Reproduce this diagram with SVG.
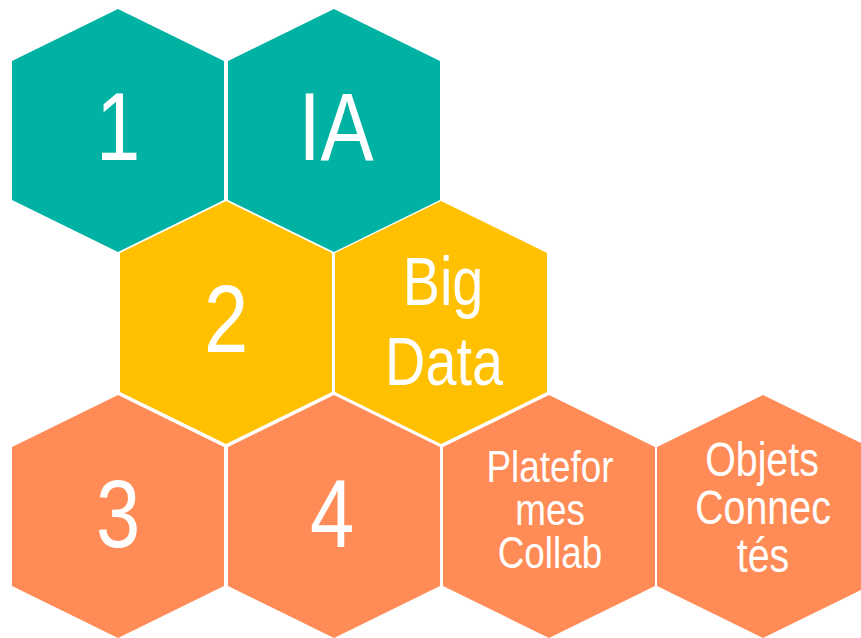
<svg xmlns="http://www.w3.org/2000/svg" xmlns:xlink="http://www.w3.org/1999/xlink" width="861" height="638" viewBox="0 0 861 638">
  <style>
    .teal { fill: #00B2A3; }
    .yellow { fill: #FFC000; }
    .orange { fill: #FF8C57; }
    text { fill: #FFFFFF; font-family: "Liberation Sans", Arial, sans-serif; text-anchor: middle; }
    .big { font-size: 97px; }
    .mid { font-size: 68px; }
    .sm { font-size: 45px; }
    .sm2 { font-size: 48px; }
  </style>
  <defs>
    <polygon id="hex" points="0,0 106,52 106,191 0,243 -106,191 -106,52"/>
  </defs>
  <rect width="861" height="638" fill="#FFFFFF"/>
  <g id="connectors"/>
  <g id="n1">
    <use xlink:href="#hex" href="#hex" x="118" y="9" class="teal"/>
    <text class="big" transform="translate(118,160) scale(0.82,1)">1</text>
  </g>
  <g id="nIA">
    <use xlink:href="#hex" href="#hex" x="334" y="9" class="teal"/>
    <text class="big" transform="translate(336,160) scale(0.82,1)">IA</text>
  </g>
  <g id="n2">
    <use xlink:href="#hex" href="#hex" x="226" y="201" class="yellow"/>
    <text class="big" transform="translate(226,352) scale(0.82,1)">2</text>
  </g>
  <g id="nBigData">
    <use xlink:href="#hex" href="#hex" x="441" y="201" class="yellow"/>
    <text class="mid" transform="translate(443,305) scale(0.82,1)">Big</text>
    <text class="mid" transform="translate(444,385) scale(0.82,1)">Data</text>
  </g>
  <g id="n3">
    <use xlink:href="#hex" href="#hex" x="118" y="395" class="orange"/>
    <text class="big" transform="translate(118,547) scale(0.82,1)">3</text>
  </g>
  <g id="n4">
    <use xlink:href="#hex" href="#hex" x="334" y="395" class="orange"/>
    <text class="big" transform="translate(332,547) scale(0.82,1)">4</text>
  </g>
  <g id="nPlateformes">
    <use xlink:href="#hex" href="#hex" x="549" y="395" class="orange"/>
    <text class="sm" transform="translate(550,482) scale(0.82,1)">Platefor</text>
    <text class="sm" transform="translate(550,525) scale(0.82,1)">mes</text>
    <text class="sm" transform="translate(550,568) scale(0.82,1)">Collab</text>
  </g>
  <g id="nObjets">
    <use xlink:href="#hex" href="#hex" x="763" y="395" class="orange"/>
    <text class="sm2" transform="translate(762,476) scale(0.82,1)">Objets</text>
    <text class="sm2" transform="translate(763,524) scale(0.82,1)">Connec</text>
    <text class="sm2" transform="translate(763,572) scale(0.82,1)">tés</text>
  </g>
</svg>
